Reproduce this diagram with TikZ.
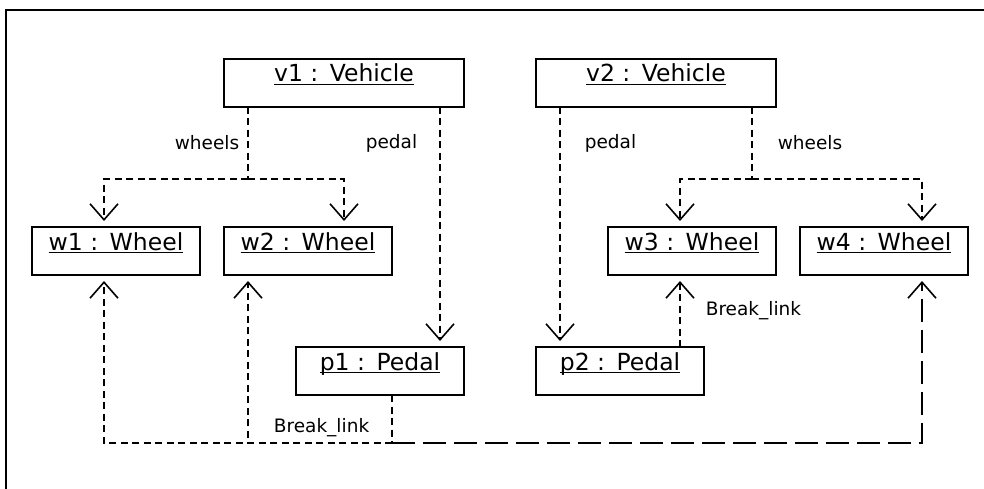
\documentclass[tikz,border=0pt]{standalone}
\usepackage{fontspec}
\setmainfont{DejaVu Sans}
\usetikzlibrary{arrows.meta,positioning}
\newcommand\objname[2]{\setbox0=\hbox{#1 :\kern4pt\ #2}\rlap{\rule[-3.2pt]{\wd0}{1.5pt}}\box0}

\begin{document}
\begin{tikzpicture}[x=1pt,y=-1pt,
  box/.style={draw,line width=2pt,minimum width=168pt,inner xsep=0pt,inner ysep=0pt,outer sep=0pt,
    text height=23pt,text depth=25pt,font=\fontsize{23.5}{28}\selectfont},
  linkline/.style={dash pattern=on 7pt off 4.5pt,line width=1.6pt},
  brk/.style={dash pattern=on 23pt off 8pt,line width=2.4pt},
  opentip/.style={-{Straight Barb[length=16pt,width=28pt,line width=1.6pt]},shorten >=6pt},
  lbl/.style={font=\fontsize{18.5}{22}\selectfont,inner sep=0pt}]
  \useasboundingbox (0,0) rectangle (984,489);
  \draw[line width=2.4pt] (984,10) -- (6,10) -- (6,489);

  \node[box,minimum width=240pt] (v1) at (344,83) {\objname{v1}{Vehicle}};
  \node[box,minimum width=240pt] (v2) at (656,83) {\objname{v2}{Vehicle}};
  \node[box] (w1) at (116,251) {\objname{w1}{Wheel}};
  \node[box] (w2) at (308,251) {\objname{w2}{Wheel}};
  \node[box] (w3) at (692,251) {\objname{w3}{Wheel}};
  \node[box] (w4) at (884,251) {\objname{w4}{Wheel}};
  \node[box] (p1) at (380,371) {\objname{p1}{Pedal}};
  \node[box] (p2) at (620,371) {\objname{p2}{Pedal}};

  \draw[linkline] ([xshift=24pt]v1.south west) -- node[lbl,left=8pt] (lw1) {wheels} ++(0,72) coordinate (j1);
  \draw[linkline,opentip] (j1) -| ([xshift=72pt]w1.north west);
  \draw[linkline,opentip] (j1) -| (v1.south |- w2.north);
  \draw[linkline,opentip] ([xshift=-24pt]v1.south east) -- node[lbl,left=22pt,pos=0.15] (lp1) {pedal} ([xshift=-24pt]p1.north east);

  \draw[linkline,opentip] ([xshift=24pt]v2.south west) -- node[lbl,right=24pt,pos=0.15] (lp2) {pedal} ([xshift=24pt]p2.north west);
  \draw[linkline] ([xshift=-24pt]v2.south east) -- node[lbl,right=25pt] (lw2) {wheels} ++(0,72) coordinate (j2);
  \draw[linkline,opentip] (j2) -| ([xshift=72pt]w3.north west);
  \draw[linkline,opentip] (j2) -| ([xshift=122pt]w4.north west);

  \draw[linkline] ([xshift=12pt]p1.south) -- node[lbl,left=22pt,pos=0.69] (lb1) {Break\_link} ++(0,48) coordinate (j3);
  \draw[linkline,opentip] (j3) -| ([xshift=72pt]w1.south west);
  \draw[linkline,opentip] (j3) -| ([xshift=24pt]w2.south west);
  \draw[brk,opentip] (j3) -| ([xshift=122pt]w4.south west);
  \draw[linkline,opentip] ([xshift=-24pt]p2.north east) -- node[lbl,right=25pt] (lb2) {Break\_link} ([xshift=72pt]w3.south west);
\end{tikzpicture}
\end{document}
